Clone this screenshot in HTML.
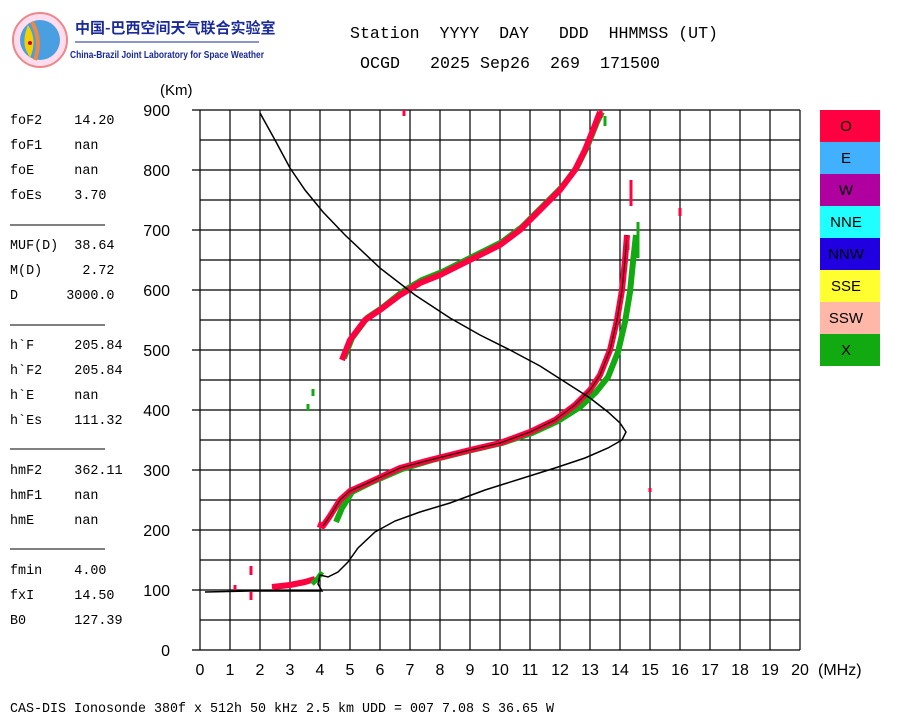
<!DOCTYPE html>
<html><head><meta charset="utf-8"><style>
body{margin:0;background:#fff;width:900px;height:720px;overflow:hidden;font-family:"Liberation Mono",monospace;}
svg text{white-space:pre}
</style></head><body>
<svg width="900" height="720" style="position:absolute;left:0;top:0" font-family="Liberation Mono, monospace" xml:space="preserve">
<circle cx="40" cy="40" r="27" fill="#fde" stroke="#e88" stroke-width="2"/>
<circle cx="40" cy="40" r="20" fill="#4a9fe0"/>
<path d="M28 25 Q38 40 30 58 L26 50 Q22 40 28 25Z" fill="#f4d000"/>
<path d="M32 22 Q42 40 35 60" stroke="#e84" stroke-width="4" fill="none"/>
<circle cx="30" cy="43" r="2" fill="#c00"/>
<text x="75" y="33" font-family="Noto Sans CJK SC, sans-serif" font-size="15" fill="#1a2a9a" font-weight="bold">中国-巴西空间天气联合实验室</text>
<line x1="75" y1="42" x2="259" y2="42" stroke="#1a2a9a" stroke-width="1"/>
<text x="70" y="58" font-family="Liberation Sans, sans-serif" font-size="10" font-weight="bold" fill="#1a2a9a" textLength="194" lengthAdjust="spacingAndGlyphs">China-Brazil Joint Laboratory for Space Weather</text>
<text x="350" y="38" font-size="17" textLength="368" lengthAdjust="spacingAndGlyphs">Station  YYYY  DAY   DDD  HHMMSS (UT)</text>
<text x="360" y="68" font-size="17" textLength="300" lengthAdjust="spacingAndGlyphs">OCGD   2025 Sep26  269  171500</text>
<text x="160" y="95" font-family="Liberation Sans, sans-serif" font-size="15">(Km)</text>
<g stroke="#000" stroke-width="1.2" id="grid"></g>
<g font-family="Liberation Sans, sans-serif" font-size="16" id="lab"></g>
<g fill="none" stroke-linejoin="round">
<polyline stroke="#11aa11" stroke-width="6" points="344,358 352,338 367,318 382,308 402,292 422,280 442,272 462,262 482,252 502,242 522,227 542,207 562,187 577,167 587,147 597,122 602,112"/>
<polyline stroke="#ff0040" stroke-width="6" points="342,360 350,340 365,320 380,310 400,295 420,283 440,275 460,265 480,255 500,245 520,230 540,210 560,190 575,170 585,150 595,125 600,112"/>
<polyline stroke="#11aa11" stroke-width="6" points="336,522 342,508 352,492 372,482 402,469 432,460 472,450 502,443 532,433 558,421 580,407 596,392 608,377 618,352 625,322 630,292 633,262 636,235"/>
<polyline stroke="#ff0040" stroke-width="6" points="318,524 323,526 330,516 340,500 350,491 370,482 400,468 430,460 470,450 500,443 530,432 555,420 575,405 590,390 600,375 610,350 617,320 622,290 625,260 627,235"/>
<polyline stroke="#000" stroke-width="1" points="323,526 330,516 340,500 350,491 370,482 400,468 430,460 470,450 500,443 530,432 555,420 575,405 590,390 600,375 610,350 617,320 622,290 625,260 627,235"/>
<polyline stroke="#ff0040" stroke-width="6" points="272,587 290,585 305,582 315,579"/>
<polyline stroke="#11aa11" stroke-width="5" points="312,584 318,578 322,572"/>
</g>
<g stroke-width="3">
<line x1="631" y1="180" x2="631" y2="206" stroke="#ff0040"/>
<line x1="628" y1="236" x2="628" y2="250" stroke="#ff0040"/>
<line x1="638" y1="222" x2="638" y2="258" stroke="#11aa11"/>
<line x1="601" y1="110" x2="601" y2="118" stroke="#ff0040"/>
<line x1="605" y1="116" x2="605" y2="126" stroke="#11aa11"/>
<line x1="404" y1="110" x2="404" y2="116" stroke="#ff0040"/>
<line x1="680" y1="208" x2="680" y2="216" stroke="#ff0040"/>
<line x1="650" y1="488" x2="650" y2="492" stroke="#ff0040"/>
<line x1="313" y1="389" x2="313" y2="396" stroke="#11aa11"/>
<line x1="308" y1="404" x2="308" y2="411" stroke="#11aa11"/>
<line x1="251" y1="566" x2="251" y2="575" stroke="#ff0040"/>
<line x1="251" y1="592" x2="251" y2="600" stroke="#ff0040"/>
<line x1="235" y1="585" x2="235" y2="590" stroke="#ff0040"/>
</g>
<polyline fill="none" stroke="#000" stroke-width="1.5" points="260,113 275,140 290,168 305,190 323,212 345,235 380,268 415,295 450,318 480,335 510,350 540,366 565,382 590,398 608,412 620,423 626,432 622,440 608,448 585,458 555,468 520,479 485,490 450,503 420,512 395,521 375,532 358,548 348,562 338,572 328,577 320,575 318,584 322,591 300,591 250,591 205,592"/>
<g font-family="Liberation Sans, sans-serif" font-size="15" text-anchor="middle">
<rect x="820" y="110" width="60" height="32" fill="#ff0040"/><text x="846" y="131">O</text>
<rect x="820" y="142" width="60" height="32" fill="#40b0ff"/><text x="846" y="163">E</text>
<rect x="820" y="174" width="60" height="32" fill="#b000a0"/><text x="846" y="195">W</text>
<rect x="820" y="206" width="60" height="32" fill="#20ffff"/><text x="846" y="227">NNE</text>
<rect x="820" y="238" width="60" height="32" fill="#2000e0"/><text x="846" y="259">NNW</text>
<rect x="820" y="270" width="60" height="32" fill="#ffff30"/><text x="846" y="291">SSE</text>
<rect x="820" y="302" width="60" height="32" fill="#ffb8a8"/><text x="846" y="323">SSW</text>
<rect x="820" y="334" width="60" height="32" fill="#11aa11"/><text x="846" y="355">X</text>
</g>
<g stroke="#000" stroke-width="1">
<line x1="10" y1="225" x2="105" y2="225"/><line x1="10" y1="325" x2="105" y2="325"/>
<line x1="10" y1="449" x2="105" y2="449"/><line x1="10" y1="549" x2="105" y2="549"/>
</g>
<g font-size="13.4">
<text x="10" y="124">foF2    14.20</text>
<text x="10" y="149">foF1    nan</text>
<text x="10" y="174">foE     nan</text>
<text x="10" y="199">foEs    3.70</text>
<text x="10" y="249">MUF(D)  38.64</text>
<text x="10" y="274">M(D)     2.72</text>
<text x="10" y="299">D      3000.0</text>
<text x="10" y="349">h`F     205.84</text>
<text x="10" y="374">h`F2    205.84</text>
<text x="10" y="399">h`E     nan</text>
<text x="10" y="424">h`Es    111.32</text>
<text x="10" y="474">hmF2    362.11</text>
<text x="10" y="499">hmF1    nan</text>
<text x="10" y="524">hmE     nan</text>
<text x="10" y="574">fmin    4.00</text>
<text x="10" y="599">fxI     14.50</text>
<text x="10" y="624">B0      127.39</text>
<text x="10" y="712" textLength="544" lengthAdjust="spacingAndGlyphs">CAS-DIS Ionosonde 380f x 512h 50 kHz 2.5 km UDD = 007 7.08 S 36.65 W</text>
</g>
</svg>
<script>
var g=document.getElementById('grid'),l=document.getElementById('lab'),ns='http://www.w3.org/2000/svg';
function ln(a,b,c,d){var e=document.createElementNS(ns,'line');e.setAttribute('x1',a);e.setAttribute('y1',b);e.setAttribute('x2',c);e.setAttribute('y2',d);g.appendChild(e);}
function tx(x,y,s,a){var e=document.createElementNS(ns,'text');e.setAttribute('x',x);e.setAttribute('y',y);e.setAttribute('text-anchor',a);e.textContent=s;l.appendChild(e);}
for(var i=0;i<=20;i++){var x=200+30*i;ln(x,110,x,650);tx(x,675,String(i),'middle');}
for(var j=0;j<=18;j++){var y=110+30*j;ln(j%2==0?192:200,y,800,y);}
for(var k=0;k<=9;k++){tx(170,656-60*k,String(k*100),'end');}
tx(818,675,'(MHz)','start');
</script>
</body></html>
